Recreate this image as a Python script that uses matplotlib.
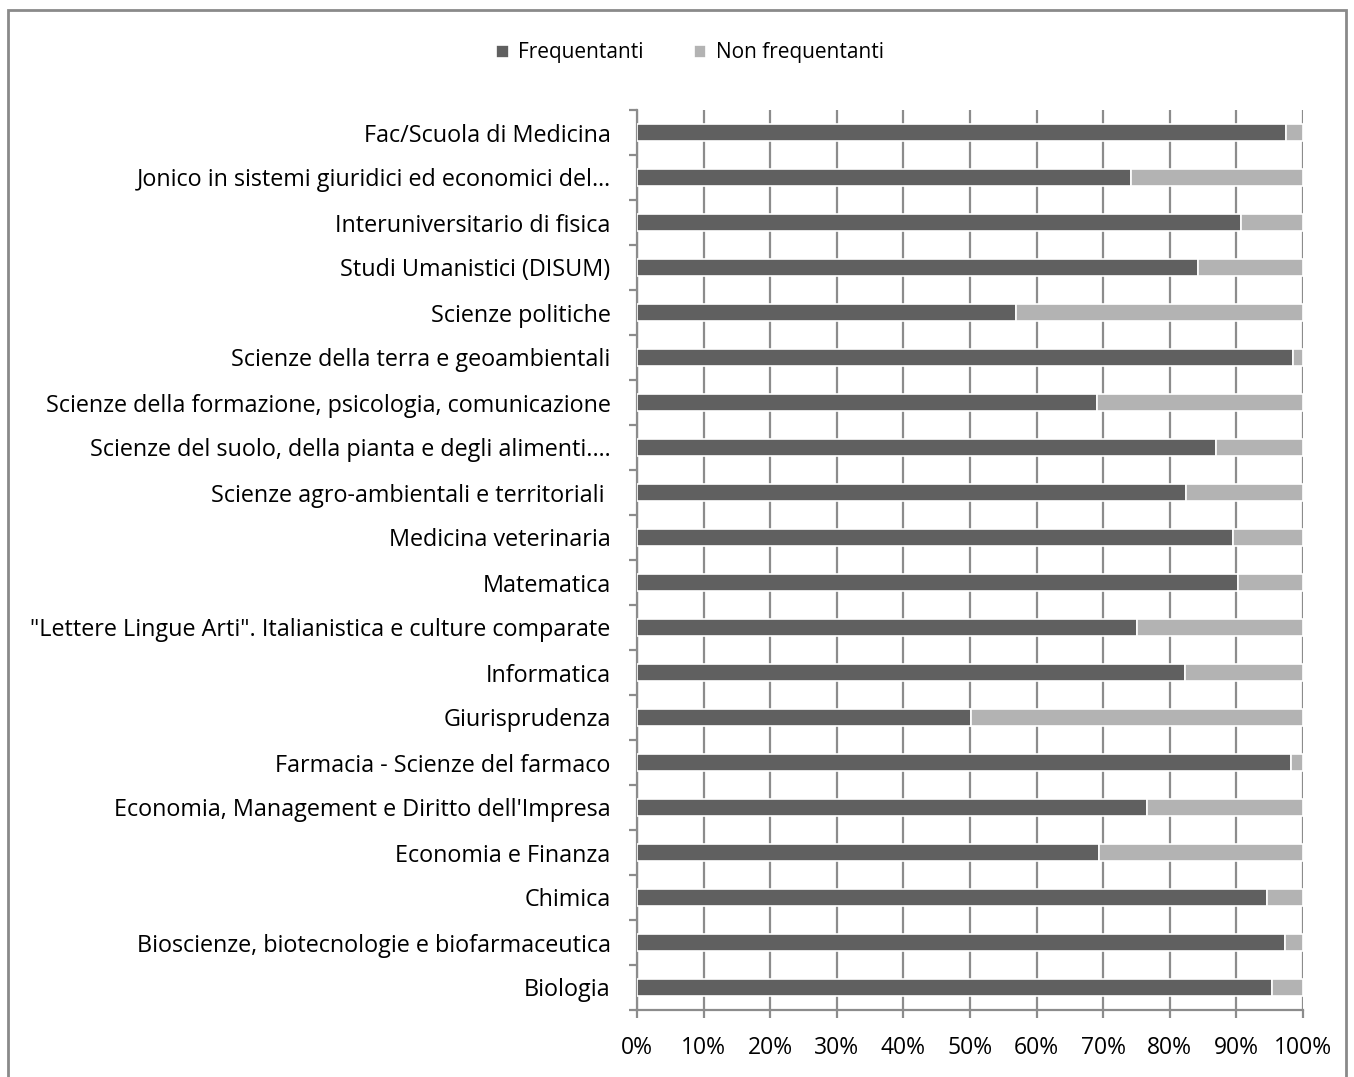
import matplotlib.pyplot as plt
from matplotlib.patches import Rectangle
from matplotlib.ticker import FixedLocator, PercentFormatter

plt.rcParams['font.family'] = ['Open Sans', 'DejaVu Sans']

# categories listed bottom to top
corsi = [
    "Biologia",
    "Bioscienze, biotecnologie e biofarmaceutica",
    "Chimica",
    "Economia e Finanza",
    "Economia, Management e Diritto dell'Impresa",
    "Farmacia - Scienze del farmaco",
    "Giurisprudenza",
    "Informatica",
    "\"Lettere Lingue Arti\". Italianistica e culture comparate",
    "Matematica",
    "Medicina veterinaria",
    "Scienze agro-ambientali e territoriali ",
    "Scienze del suolo, della pianta e degli alimenti.…",
    "Scienze della formazione, psicologia, comunicazione",
    "Scienze della terra e geoambientali",
    "Scienze politiche",
    "Studi Umanistici (DISUM)",
    "Interuniversitario di fisica",
    "Jonico in sistemi giuridici ed economici del…",
    "Fac/Scuola di Medicina",
]
frequentanti = [95.3, 97.3, 94.6, 69.4, 76.6, 98.2, 50.2, 82.3, 75.1, 90.2,
                89.5, 82.4, 86.9, 69.1, 98.5, 56.9, 84.2, 90.7, 74.2, 97.4]
non_frequentanti = [100 - v for v in frequentanti]

scuro = '#606060'
chiaro = '#b3b3b3'
griglia = '#8c8c8c'

fig = plt.figure(figsize=(13.54, 10.77), dpi=100)
ax = fig.add_axes([637 / 1354, 1 - 1010 / 1077, 666 / 1354, 900 / 1077])

y = list(range(len(corsi)))
ax.barh(y, frequentanti, height=0.37, color=scuro, edgecolor='white',
        linewidth=1.2, label='Frequentanti', zorder=3)
ax.barh(y, non_frequentanti, left=frequentanti, height=0.37, color=chiaro,
        edgecolor='white', linewidth=1.2, label='Non frequentanti', zorder=3)

ax.set_xlim(0, 100)
ax.set_ylim(-0.5, len(corsi) - 0.5)
ax.set_xticks(range(0, 101, 10))
ax.xaxis.set_major_formatter(PercentFormatter(decimals=0))
ax.grid(axis='x', color=griglia, linewidth=1.6, zorder=1)

ax.set_yticks(y)
ax.set_yticklabels(corsi, fontsize=16.8)
ax.yaxis.set_minor_locator(FixedLocator([i - 0.5 for i in range(len(corsi) + 1)]))
ax.tick_params(axis='y', which='major', length=0, pad=19)
ax.tick_params(axis='y', which='minor', length=6, width=1.6, color=griglia)
ax.tick_params(axis='x', length=6, width=1.6, color=griglia, labelsize=16.5, pad=13)

for lato in ['top', 'right']:
    ax.spines[lato].set_visible(False)
for lato in ['left', 'bottom']:
    ax.spines[lato].set_color(griglia)
    ax.spines[lato].set_linewidth(1.6)

fig.legend(loc='center', bbox_to_anchor=(690 / 1354, 1 - 53 / 1077), ncol=2,
           frameon=False, fontsize=15, handlelength=0.6, handleheight=0.6,
           handletextpad=0.45, columnspacing=2.4)

fig.patches.append(Rectangle((8 / 1354, -0.01), 1338 / 1354, 1 - 10 / 1077 + 0.01,
                             transform=fig.transFigure, fill=False,
                             edgecolor='#8a8a8a', linewidth=2))

fig.savefig('out.png', dpi=100)
